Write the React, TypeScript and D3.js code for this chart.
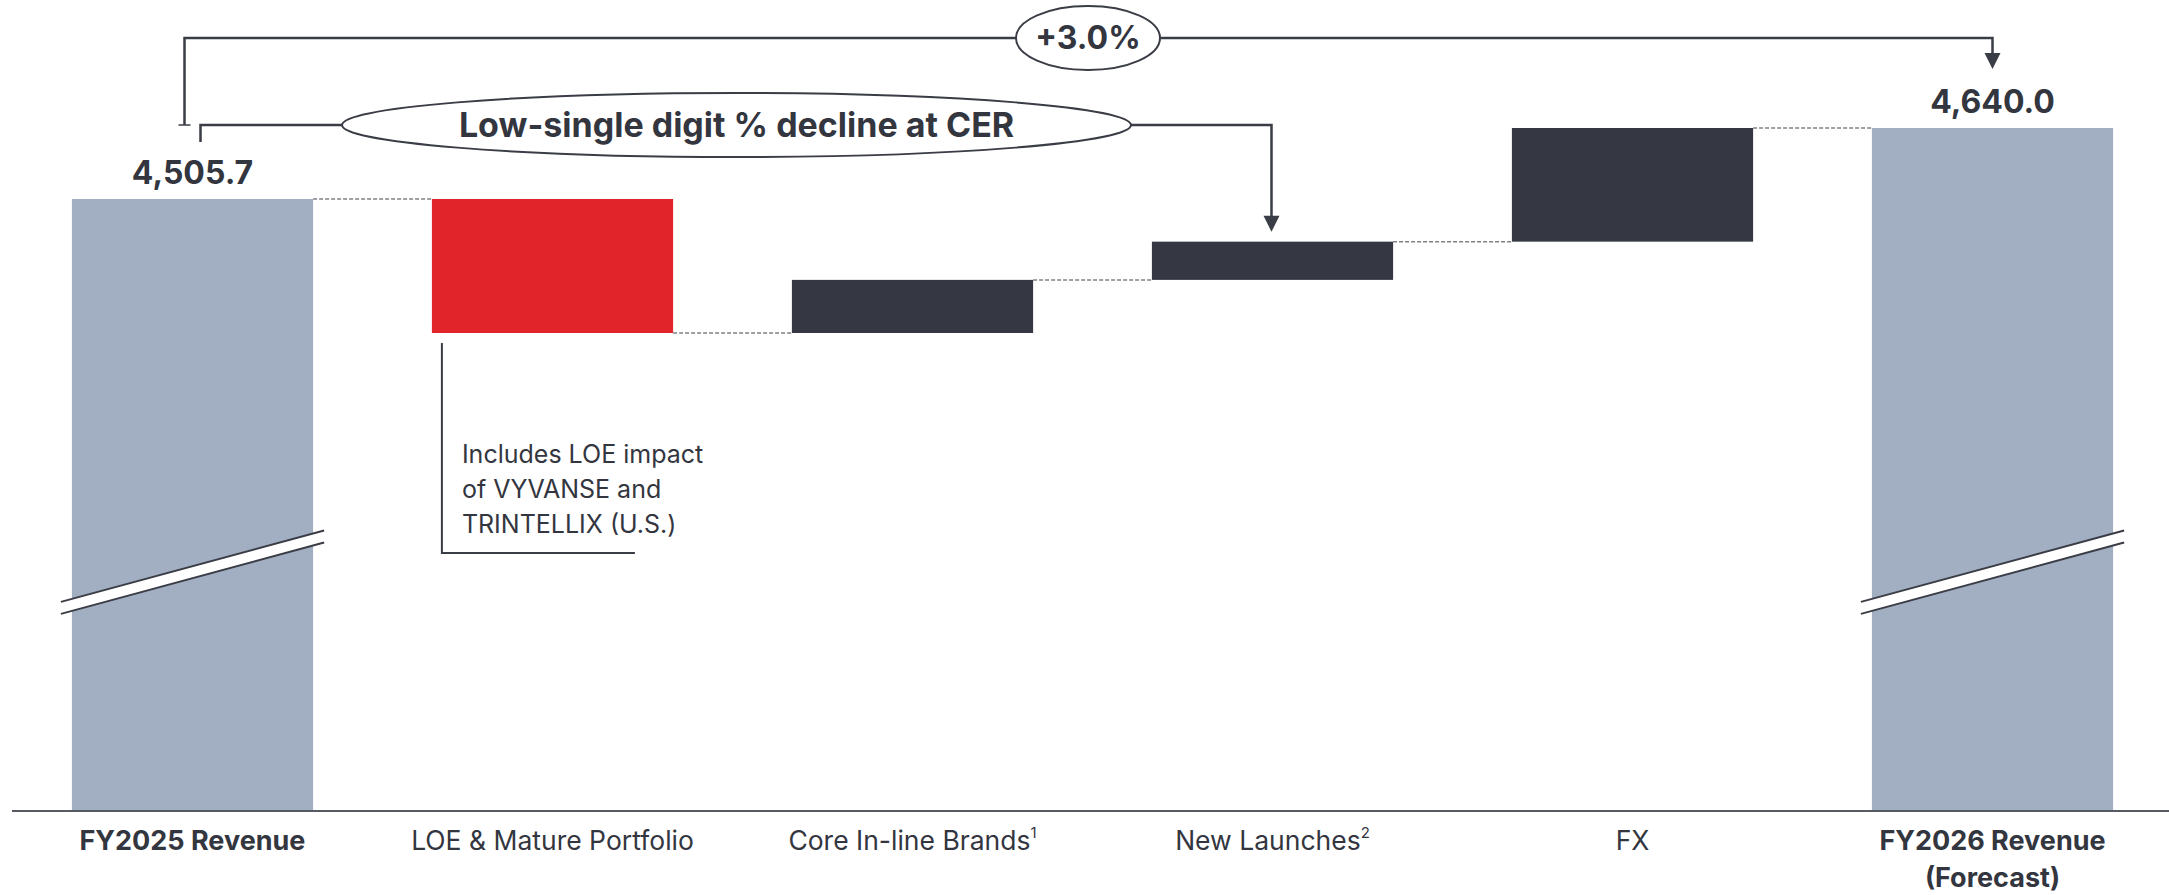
import React from "react";
import * as d3 from "d3";

// ---- data ----
const categories = ["FY2025 Revenue", "LOE & Mature Portfolio", "Core In-line Brands", "New Launches", "FX", "FY2026 Revenue"];
const categorySecondLine = ["", "", "", "", "", "(Forecast)"];
const superscripts = ["", "", "1", "2", "", ""];
const barTypes = ["total", "delta", "delta", "delta", "delta", "total"];
const values = [4505.7, -253.5, 100.5, 72.3, 215.0, 4640.0];
const axisBaseValue = 3348; // broken axis: bars start here
const breakValue = 3811; // where the axis break is drawn
const growthLabel = "+3.0%";
const cerLabel = "Low-single digit % decline at CER";
const noteLines = ["Includes LOE impact", "of VYVANSE and", "TRINTELLIX (U.S.)"];

const W = 2169;
const H = 895;
const FONT = "Inter, 'Open Sans', Roboto, sans-serif";
const TEXT = "#33363f";
const LINE = "#3a3d46";
const TOTAL = "#a2afc2";
const NEG = "#e1232a";
const POS = "#353842";

export default function App() {
  const x = d3
    .scaleBand<string>()
    .domain(categories)
    .range([12.5, 2172.5])
    .paddingInner(0.33)
    .paddingOuter(0.165);
  const y = d3.scaleLinear().domain([axisBaseValue, 4640]).range([811, 128]);
  const bw = x.bandwidth();
  const fmt = d3.format(",.1f");

  let cum = 0;
  const bars = categories.map((c, i) => {
    const v = values[i];
    let lo: number, hi: number, end: number;
    if (barTypes[i] === "total") {
      lo = axisBaseValue;
      hi = v;
      end = v;
    } else {
      const start = cum;
      end = cum + v;
      lo = Math.min(start, end);
      hi = Math.max(start, end);
    }
    cum = end;
    const fill = barTypes[i] === "total" ? TOTAL : v < 0 ? NEG : POS;
    return { c, i, v, lo, hi, end, fill, x0: x(c)!, x1: x(c)! + bw };
  });

  const cx = (i: number) => bars[i].x0 + bw / 2;

  // axis break geometry
  const breakSlope = 71 / 262;
  const ext = 11;
  const gap = 12;
  const breakShape = (b: typeof bars[number]) => {
    const xa = b.x0 - ext;
    const xb = b.x1 + ext;
    const yc = y(breakValue);
    const mid = (xa + xb) / 2;
    const ya = yc + (mid - xa) * breakSlope;
    const yb = yc - (xb - mid) * breakSlope;
    return { xa, xb, ya, yb };
  };

  // annotation geometry
  const outerY = 38;
  const innerY = 125;
  const outerLeftX = cx(0) - 8;
  const outerRightX = cx(5);
  const outerTipY = y(values[5]) - 59;
  const innerLeftX = cx(0) + 8;
  const innerTipX = cx(3) - 1;
  const innerTipY = y(bars[3].hi) - 10;
  const cerCx = 736.5;
  const cerRx = 394.5;
  const growthCx = 1088;

  const arrowHead = (tx: number, ty: number) =>
    `M${tx - 8},${ty - 16} L${tx + 8},${ty - 16} L${tx},${ty} Z`;

  const red = bars[1];
  const noteX = red.x0 + 10;
  const noteTop = y(red.lo) + 10;
  const noteBottom = 553;

  return (
    <div style={{ position: "absolute", left: 0, top: 0, background: "#fff" }}>
      <svg width={W} height={H} viewBox={`0 0 ${W} ${H}`} style={{ display: "block", fontFamily: FONT }}>
        <rect width={W} height={H} fill="#fff" />

        {/* bars */}
        {bars.map((b) => (
          <rect key={b.c} x={b.x0} y={y(b.hi)} width={bw} height={y(b.lo) - y(b.hi)} fill={b.fill} />
        ))}

        {/* connectors */}
        {bars.slice(0, -1).map((b, i) => (
          <line
            key={"con" + i}
            x1={b.x1}
            x2={bars[i + 1].x0}
            y1={y(b.end)}
            y2={y(b.end)}
            stroke="#7f8187"
            strokeWidth={1.5}
            strokeDasharray="4 2"
          />
        ))}

        {/* axis breaks */}
        {bars
          .filter((b) => barTypes[b.i] === "total")
          .map((b) => {
            const s = breakShape(b);
            return (
              <g key={"brk" + b.i}>
                <path
                  d={`M${s.xa},${s.ya} L${s.xb},${s.yb} L${s.xb},${s.yb + gap} L${s.xa},${s.ya + gap} Z`}
                  fill="#fff"
                />
                <line x1={s.xa} y1={s.ya} x2={s.xb} y2={s.yb} stroke={LINE} strokeWidth={2} />
                <line x1={s.xa} y1={s.ya + gap} x2={s.xb} y2={s.yb + gap} stroke={LINE} strokeWidth={2} />
              </g>
            );
          })}

        {/* baseline */}
        <line x1={12} x2={W} y1={811} y2={811} stroke="#555a63" strokeWidth={2} />

        {/* total labels */}
        {bars
          .filter((b) => barTypes[b.i] === "total")
          .map((b) => (
            <text
              key={"val" + b.i}
              x={cx(b.i)}
              y={y(b.hi) - 15}
              textAnchor="middle"
              fontSize={32}
              fontWeight={700}
              fill={TEXT}
            >
              {fmt(b.v)}
            </text>
          ))}

        {/* category labels */}
        {categories.map((c, i) => {
          const bold = barTypes[i] === "total";
          return (
            <g key={"lab" + i}>
              <text
                x={cx(i)}
                y={850}
                textAnchor="middle"
                fontSize={bold ? 27 : 26.5}
                fontWeight={bold ? 700 : 400}
                fill={TEXT}
              >
                {c}
                {superscripts[i] ? (
                  <tspan fontSize={15} dy={-12}>
                    {superscripts[i]}
                  </tspan>
                ) : null}
              </text>
              {categorySecondLine[i] ? (
                <text x={cx(i)} y={887} textAnchor="middle" fontSize={27} fontWeight={700} fill={TEXT}>
                  {categorySecondLine[i]}
                </text>
              ) : null}
            </g>
          );
        })}

        {/* LOE note */}
        <path
          d={`M${noteX},${noteTop} L${noteX},${noteBottom} L${noteX + 193},${noteBottom}`}
          fill="none"
          stroke={LINE}
          strokeWidth={2}
        />
        {noteLines.map((t, k) => (
          <text key={"note" + k} x={noteX + 20} y={463 + k * 35} fontSize={25} fill={TEXT}>
            {t}
          </text>
        ))}

        {/* outer bracket (+3.0%) */}
        <path
          d={`M${outerLeftX},${innerY} L${outerLeftX},${outerY} L${outerRightX},${outerY} L${outerRightX},${outerTipY - 14}`}
          fill="none"
          stroke={LINE}
          strokeWidth={2.5}
        />
        <line x1={outerLeftX - 6} x2={outerLeftX + 6} y1={innerY} y2={innerY} stroke={LINE} strokeWidth={1.5} />
        <path d={arrowHead(outerRightX, outerTipY)} fill={LINE} />
        <ellipse cx={growthCx} cy={outerY} rx={72} ry={32} fill="#fff" stroke={LINE} strokeWidth={2} />
        <text x={growthCx} y={outerY + 11} textAnchor="middle" fontSize={32} fontWeight={700} fill={TEXT}>
          {growthLabel}
        </text>

        {/* inner bracket (CER) */}
        <path
          d={`M${innerLeftX},${innerY + 17} L${innerLeftX},${innerY} L${innerTipX},${innerY} L${innerTipX},${innerTipY - 14}`}
          fill="none"
          stroke={LINE}
          strokeWidth={2.5}
        />
        <path d={arrowHead(innerTipX, innerTipY)} fill={LINE} />
        <ellipse cx={cerCx} cy={innerY} rx={cerRx} ry={32} fill="#fff" stroke={LINE} strokeWidth={2} />
        <text x={cerCx} y={innerY + 12} textAnchor="middle" fontSize={34} fontWeight={700} fill={TEXT}>
          {cerLabel}
        </text>
      </svg>
    </div>
  );
}
